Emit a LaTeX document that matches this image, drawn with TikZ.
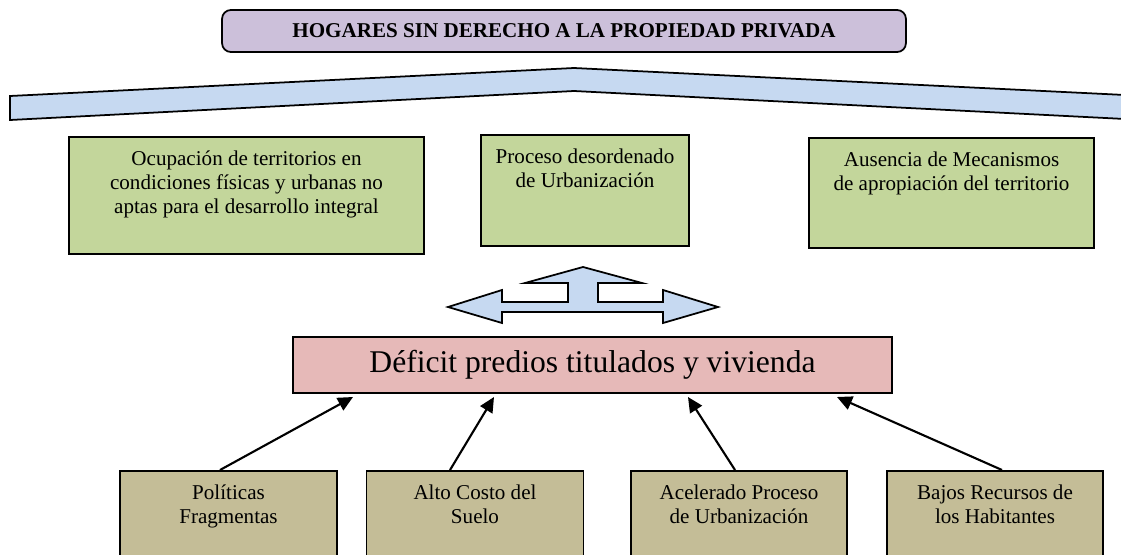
\documentclass[tikz,border=0pt]{standalone}
\usepackage{fontspec}
\setmainfont{Liberation Serif}
\usetikzlibrary{arrows.meta}
\definecolor{titlefill}{HTML}{CCC0DA}
\definecolor{roofblue}{HTML}{C6D9F1}
\definecolor{causegreen}{HTML}{C3D69B}
\definecolor{deficitpink}{HTML}{E6B9B8}
\definecolor{factortan}{HTML}{C4BD97}
\newcommand{\celltext}[3]{\parbox[c][#2][t]{#1}{\centering\vspace{0.27cm}#3}}
\begin{document}
\begin{tikzpicture}[x=0.02cm,y=-0.02cm,
  box/.style={draw,line width=1pt,inner sep=0pt},
  cause/.style={box,fill=causegreen,anchor=north,font=\fontsize{12}{13.8}\selectfont},
  factor/.style={box,fill=factortan,anchor=north,font=\fontsize{12}{13.8}\selectfont},
  arr/.style={-{Triangle[length=0.3cm,width=0.28cm]},line width=1.2pt}]
  \useasboundingbox (0,0) rectangle (1121,554);
  % roof band
  \draw[line width=1pt,fill=roofblue] (10,96) -- (574,68) -- (1125,95) -- (1125,119) -- (574,91) -- (10,120) -- cycle;
  \node[box,rounded corners=5pt,fill=titlefill,minimum width=13.68cm,minimum height=0.84cm,font=\fontsize{12}{14}\selectfont\bfseries] (hogares) at (564,31) {HOGARES SIN DERECHO A LA PROPIEDAD PRIVADA};
  % causes
  \node[cause] (ocupacion) at (246.5,136) {\celltext{7.1cm}{2.34cm}{Ocupación de territorios en\\condiciones físicas y urbanas no\\aptas para el desarrollo integral}};
  \node[cause] (proceso) at (585,134) {\celltext{4.16cm}{2.22cm}{Proceso desordenado\\de Urbanización}};
  \node[cause] (ausencia) at (951.5,137) {\celltext{5.7cm}{2.2cm}{Ausencia de Mecanismos\\de apropiación del territorio}};
  % three way arrow
  \draw[line width=1pt,fill=roofblue] (448,307) -- (502,290) -- (502,302) -- (568,302) -- (568,283) -- (525,283) -- (583,267) -- (642,283) -- (598,283) -- (598,302) -- (663,302) -- (663,290) -- (718,307) -- (663,323) -- (663,312) -- (502,312) -- (502,323) -- cycle;
  \node[box,fill=deficitpink,minimum width=11.98cm,minimum height=1.12cm,font=\fontsize{18}{21}\selectfont] (deficit) at (592.5,365) {Déficit predios titulados y vivienda};
  % factors
  \node[factor] (politicas) at (228.5,470) {\celltext{4.34cm}{2cm}{Políticas\\Fragmentas}};
  \node[factor] (costo) at (475,470) {\celltext{4.34cm}{2cm}{Alto Costo del\\Suelo}};
  \node[factor] (acelerado) at (739,470) {\celltext{4.32cm}{2cm}{Acelerado Proceso\\de Urbanización}};
  \node[factor] (recursos) at (995,470) {\celltext{4.32cm}{2cm}{Bajos Recursos de\\los Habitantes}};
  \coordinate (t1) at (353,397);
  \coordinate (t2) at (494,397);
  \coordinate (t3) at (688,397);
  \coordinate (t4) at (837,397);
  \draw[arr] ([xshift=-0.17cm]politicas.north) -- (t1);
  \draw[arr] ([xshift=-0.5cm]costo.north) -- (t2);
  \draw[arr] ([xshift=-0.08cm]acelerado.north) -- (t3);
  \draw[arr] ([xshift=0.14cm]recursos.north) -- (t4);
\end{tikzpicture}
\end{document}
